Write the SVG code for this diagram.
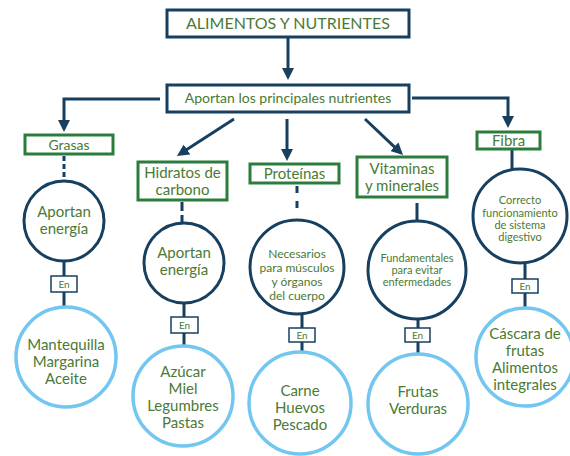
<svg xmlns="http://www.w3.org/2000/svg" width="570" height="456" viewBox="0 0 570 456">
<style>
text{font-family:Lato,"Noto Sans","Liberation Sans",sans-serif;fill:#4a7a35;text-anchor:middle}
.nb{fill:#fff;stroke:#173f5f;stroke-width:3}
.gb{fill:#fff;stroke:#2b7d3c;stroke-width:3}
.dc{fill:#fff;stroke:#173f5f;stroke-width:3}
.lc{fill:#fff;stroke:#72c6ef;stroke-width:3.5}
.en{fill:#fff;stroke:#173f5f;stroke-width:1.5}
.ln{fill:none;stroke:#173f5f;stroke-width:3}
.t16{font-size:16px}.t15{font-size:15px}.t14{font-size:14px}.t12{font-size:12px}.t11{font-size:11px}.t10{font-size:10px}
</style>
<defs>
<marker id="ah" markerWidth="12" markerHeight="12" viewBox="0 0 12 12" refX="3" refY="6" orient="auto" markerUnits="userSpaceOnUse">
<path d="M0,0 L12,6 L0,12 z" fill="#173f5f"/>
</marker>
</defs>
<g id="connectors">
<path class="ln" d="M288,38 V71" marker-end="url(#ah)"/>
<path class="ln" d="M160,99 H64 V123" marker-end="url(#ah)"/>
<path class="ln" d="M412,98 H508 V119" marker-end="url(#ah)"/>
<path class="ln" d="M234,119 L184.5,151.1" marker-end="url(#ah)"/>
<path class="ln" d="M287,119 V152" marker-end="url(#ah)"/>
<path class="ln" d="M365,119 L396.5,148.8" marker-end="url(#ah)"/>
<path class="ln" d="M64,156 V180" stroke-dasharray="5,3"/>
<path class="ln" d="M64,262 V276 M64,292 V307"/>
<path class="ln" d="M182,202 V223" stroke-dasharray="9,4"/>
<path class="ln" d="M184,303 V317 M184,333 V346"/>
<path class="ln" d="M297,186 V215" stroke-dasharray="7,8"/>
<path class="ln" d="M302,314 V328 M302,342 V353"/>
<path class="ln" d="M417,203 V220"/>
<path class="ln" d="M418,319 V328 M418,342 V354"/>
<path class="ln" d="M512,150 V169"/>
<path class="ln" d="M525,263 V279 M525,293 V307"/>
</g>
<g id="title">
<rect class="nb" x="167" y="10" width="242" height="27"/>
<text class="t16" x="288" y="29">ALIMENTOS Y NUTRIENTES</text>
</g>
<g id="aportan">
<rect class="nb" x="167" y="85" width="242" height="27"/>
<text class="t14" x="288" y="103">Aportan los principales nutrientes</text>
</g>
<g id="grasas">
<rect class="gb" x="25" y="135" width="88" height="19"/>
<text class="t14" x="69" y="149.5">Grasas</text>
</g>
<g id="grasas-circle">
<circle class="dc" cx="64" cy="221" r="40"/>
<text class="t15" x="64" y="217">Aportan</text>
<text class="t15" x="64" y="234">energía</text>
</g>
<g id="grasas-en">
<rect class="en" x="51" y="276" width="26" height="16"/>
<text class="t10" x="64" y="288">En</text>
</g>
<g id="grasas-ej">
<circle class="lc" cx="66" cy="357" r="50"/>
<text class="t15" x="66" y="350">Mantequilla</text>
<text class="t15" x="66" y="367">Margarina</text>
<text class="t15" x="66" y="384">Aceite</text>
</g>
<g id="hidratos">
<rect class="gb" x="138" y="162" width="89" height="38"/>
<text class="t15" x="182.5" y="178">Hidratos de</text>
<text class="t15" x="182.5" y="195">carbono</text>
</g>
<g id="hidratos-circle">
<circle class="dc" cx="184" cy="263" r="40"/>
<text class="t15" x="184" y="258">Aportan</text>
<text class="t15" x="184" y="275">energía</text>
</g>
<g id="hidratos-en">
<rect class="en" x="171" y="317" width="27" height="16"/>
<text class="t10" x="184.5" y="329">En</text>
</g>
<g id="hidratos-ej">
<circle class="lc" cx="183" cy="396" r="50"/>
<text class="t15" x="183" y="377">Azúcar</text>
<text class="t15" x="183" y="394">Miel</text>
<text class="t15" x="183" y="411">Legumbres</text>
<text class="t15" x="183" y="428">Pastas</text>
</g>
<g id="proteinas">
<rect class="gb" x="250" y="164" width="89" height="19"/>
<text class="t15" x="294.5" y="179">Proteínas</text>
</g>
<g id="proteinas-circle">
<circle class="dc" cx="297" cy="267" r="47"/>
<text class="t12" x="297" y="258">Necesarios</text>
<text class="t12" x="297" y="272">para músculos</text>
<text class="t12" x="297" y="286">y órganos</text>
<text class="t12" x="297" y="300">del cuerpo</text>
</g>
<g id="proteinas-en">
<rect class="en" x="289" y="328" width="26" height="14"/>
<text class="t10" x="302" y="339">En</text>
</g>
<g id="proteinas-ej">
<circle class="lc" cx="300" cy="403" r="51"/>
<text class="t15" x="300" y="396">Carne</text>
<text class="t15" x="300" y="413">Huevos</text>
<text class="t15" x="300" y="430">Pescado</text>
</g>
<g id="vitaminas">
<rect class="gb" x="357" y="157" width="90" height="40"/>
<text class="t15" x="402" y="174">Vitaminas</text>
<text class="t15" x="402" y="191">y minerales</text>
</g>
<g id="vitaminas-circle">
<circle class="dc" cx="417" cy="270" r="49"/>
<text class="t11" x="417" y="262">Fundamentales</text>
<text class="t11" x="417" y="274">para evitar</text>
<text class="t11" x="417" y="286">enfermedades</text>
</g>
<g id="vitaminas-en">
<rect class="en" x="405" y="328" width="25" height="14"/>
<text class="t10" x="417.5" y="339">En</text>
</g>
<g id="vitaminas-ej">
<circle class="lc" cx="418" cy="404" r="50"/>
<text class="t15" x="418" y="397">Frutas</text>
<text class="t15" x="418" y="414">Verduras</text>
</g>
<g id="fibra">
<rect class="gb" x="477" y="132" width="63" height="17"/>
<text class="t15" x="508.5" y="146">Fibra</text>
</g>
<g id="fibra-circle">
<circle class="dc" cx="520" cy="216" r="47"/>
<text class="t11" x="520" y="204">Correcto</text>
<text class="t11" x="520" y="217">funcionamiento</text>
<text class="t11" x="520" y="229">de sistema</text>
<text class="t11" x="520" y="241">digestivo</text>
</g>
<g id="fibra-en">
<rect class="en" x="512" y="279" width="26" height="14"/>
<text class="t10" x="525" y="290">En</text>
</g>
<g id="fibra-ej">
<circle class="lc" cx="525" cy="357" r="49"/>
<text class="t15" x="525" y="339">Cáscara de</text>
<text class="t15" x="525" y="356">frutas</text>
<text class="t15" x="525" y="373">Alimentos</text>
<text class="t15" x="525" y="390">integrales</text>
</g>
</svg>
